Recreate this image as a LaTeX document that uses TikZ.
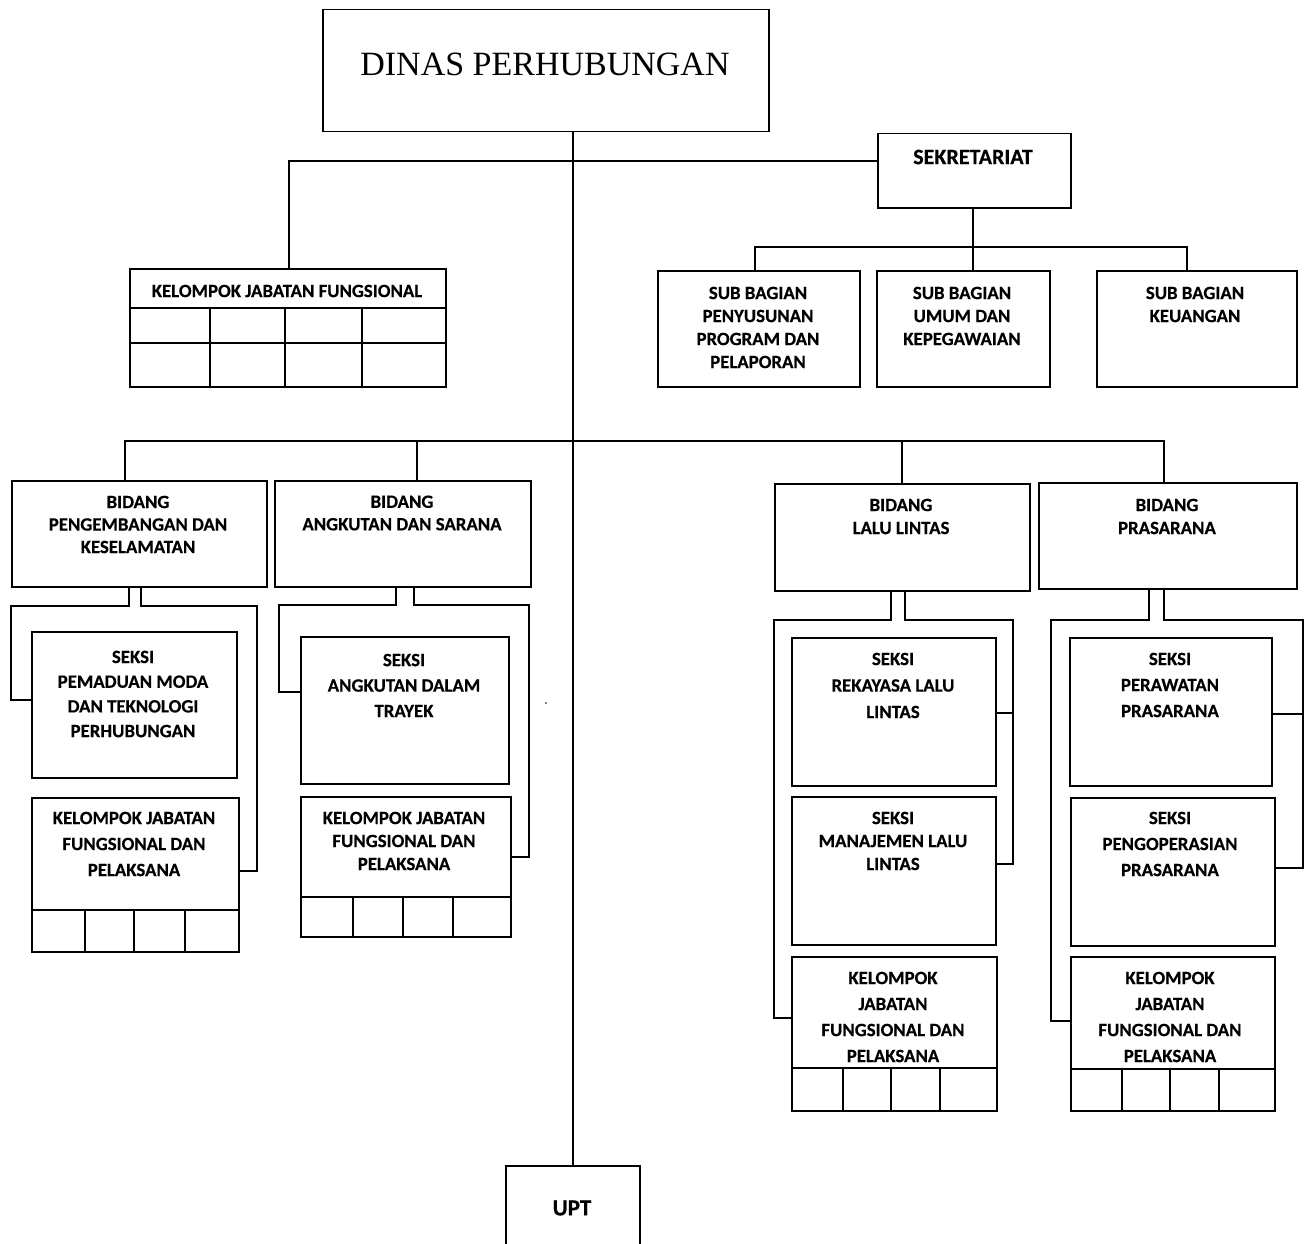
\documentclass[tikz,border=0pt]{standalone}
\usepackage{fontspec}
\newfontfamily\carl{Carlito}[BoldFeatures={FakeBold=0.4}]
\newfontfamily\titlefont{Liberation Serif}
\begin{document}
\begin{tikzpicture}[x=1pt,y=-1pt,line width=1.5pt,
  box/.style={draw,anchor=north west,inner sep=0,line width=1.5pt},
  tx/.style={align=center,inner sep=0,font=\carl\bfseries\fontsize{18.8}{#1}\selectfont},
  tx/.default=23,
  con/.style={line width=1.5pt}]
\useasboundingbox (0,0) rectangle (1307,1244);
\clip (0,0) rectangle (1307,1244);
% ---------- boxes ----------
\node[box,minimum width=446,minimum height=122] (top) at (322,9) {};
\node[font=\titlefont\fontsize{34}{38}\selectfont,inner sep=0] (toptxt) at (545,64) {DINAS PERHUBUNGAN};
\node[box,minimum width=193,minimum height=74] (sek) at (877,133) {};
\node[tx,font=\carl\bfseries\fontsize{22}{26}\selectfont] (sekt) at (973,157) {SEKRETARIAT};
\node[box,minimum width=202,minimum height=116] (sb1) at (657,270) {};
\node[tx] (sb1t) at (758,327.5) {SUB BAGIAN\\PENYUSUNAN\\PROGRAM DAN\\PELAPORAN};
\node[box,minimum width=173,minimum height=116] (sb2) at (876,270) {};
\node[tx] (sb2t) at (962,316) {SUB BAGIAN\\UMUM DAN\\KEPEGAWAIAN};
\node[box,minimum width=200,minimum height=116] (sb3) at (1096,270) {};
\node[tx] (sb3t) at (1195,304.5) {SUB BAGIAN\\KEUANGAN};
% kelompok jabatan fungsional (top)
\node[box,minimum width=316,minimum height=118] (kjf) at (129,268) {};
\node[tx] (kjft) at (287,291) {KELOMPOK JABATAN FUNGSIONAL};
\draw (129,308) -- (445,308) (129,343) -- (445,343);
\foreach \x in {210,285,362} \draw (\x,308) -- (\x,386);
% bidang
\node[box,minimum width=255,minimum height=106] (b1) at (11,480) {};
\node[tx=22.5] (b1t) at (138,524.5) {BIDANG\\PENGEMBANGAN DAN\\KESELAMATAN};
\node[box,minimum width=256,minimum height=106] (b2) at (274,480) {};
\node[tx=22.5] (b2t) at (402,513) {BIDANG\\ANGKUTAN DAN SARANA};
\node[box,minimum width=255,minimum height=107] (b3) at (774,483) {};
\node[tx=23] (b3t) at (901,516.5) {BIDANG\\LALU LINTAS};
\node[box,minimum width=258,minimum height=106] (b4) at (1038,482) {};
\node[tx=23] (b4t) at (1167,516.5) {BIDANG\\PRASARANA};
% seksi under b1, b2
\node[box,minimum width=205,minimum height=146] (pm) at (31,631) {};
\node[tx=24.7] (pmt) at (133,694) {SEKSI\\PEMADUAN MODA\\DAN TEKNOLOGI\\PERHUBUNGAN};
\node[box,minimum width=207,minimum height=154] (kb1) at (31,797) {};
\node[tx=26] (kb1t) at (134,844) {KELOMPOK JABATAN\\FUNGSIONAL DAN\\PELAKSANA};
\draw (31,910) -- (238,910);
\foreach \x in {85,134,185} \draw (\x,910) -- (\x,951);
\node[box,minimum width=208,minimum height=147] (ak) at (300,636) {};
\node[tx=25.5] (akt) at (404,685.5) {SEKSI\\ANGKUTAN DALAM\\TRAYEK};
\node[box,minimum width=210,minimum height=140] (kb2) at (300,796) {};
\node[tx=23] (kb2t) at (404,841) {KELOMPOK JABATAN\\FUNGSIONAL DAN\\PELAKSANA};
\draw (300,897) -- (510,897);
\foreach \x in {353,403,453} \draw (\x,897) -- (\x,936);
% seksi under b3
\node[box,minimum width=204,minimum height=148] (rll) at (791,637) {};
\node[tx=26.5] (rllt) at (893,685.5) {SEKSI\\REKAYASA LALU\\LINTAS};
\node[box,minimum width=204,minimum height=148] (mll) at (791,796) {};
\node[tx=23] (mllt) at (893,841) {SEKSI\\MANAJEMEN LALU\\LINTAS};
\node[box,minimum width=205,minimum height=154] (kb3) at (791,956) {};
\node[tx=26] (kb3t) at (893,1017) {KELOMPOK\\JABATAN\\FUNGSIONAL DAN\\PELAKSANA};
\draw (791,1068) -- (996,1068);
\foreach \x in {843,891,940} \draw (\x,1068) -- (\x,1110);
% seksi under b4
\node[box,minimum width=202,minimum height=148] (pp) at (1069,637) {};
\node[tx=26] (ppt) at (1170,685) {SEKSI\\PERAWATAN\\PRASARANA};
\node[box,minimum width=204,minimum height=148] (pop) at (1070,797) {};
\node[tx=26] (popt) at (1170,844) {SEKSI\\PENGOPERASIAN\\PRASARANA};
\node[box,minimum width=204,minimum height=154] (kb4) at (1070,956) {};
\node[tx=26] (kb4t) at (1170,1017) {KELOMPOK\\JABATAN\\FUNGSIONAL DAN\\PELAKSANA};
\draw (1070,1069) -- (1274,1069);
\foreach \x in {1122,1170,1219} \draw (\x,1069) -- (\x,1110);
% UPT
\node[box,minimum width=134,minimum height=90] (upt) at (505,1165) {};
\node[tx,font=\carl\bfseries\fontsize{23}{26}\selectfont] (uptt) at (572,1208) {UPT};
% stray dot
\fill (546,703) circle (0.8);
% ---------- connectors ----------
\draw[con] (upt.north |- top.south) -- (upt.north);
\coordinate (h1) at (289,161);
\draw[con] (kjf.north -| h1) -- (h1) -- (h1 -| sek.west);
\coordinate (s1) at (755,247);
\coordinate (s3) at (1187,247);
\coordinate (s2) at (973,247);
\draw[con] (sek.south -| s2) -- (sb2.north -| s2);
\draw[con] (sb1.north -| s1) -- (s1) -- (s3) -- (sb3.north -| s3);
\coordinate (bl) at (125,441);
\coordinate (br) at (1164,441);
\coordinate (bm2) at (417,441);
\coordinate (bm3) at (902,441);
\draw[con] (b1.north -| bl) -- (bl) -- (br) -- (b4.north -| br);
\draw[con] (bm2) -- (b2.north -| bm2);
\draw[con] (bm3) -- (b3.north -| bm3);
% b1
\coordinate (a1) at (129,606); \coordinate (a2) at (11,700);
\draw[con] (b1.south -| a1) -- (a1) -| (a2) -- (a2 -| pm.west);
\coordinate (a3) at (141,606); \coordinate (a4) at (257,871);
\draw[con] (b1.south -| a3) -- (a3) -| (a4) -- (a4 -| kb1.east);
% b2
\coordinate (c1) at (396,605); \coordinate (c2) at (279,692);
\draw[con] (b2.south -| c1) -- (c1) -| (c2) -- (c2 -| ak.west);
\coordinate (c3) at (414,605); \coordinate (c4) at (529,857);
\draw[con] (b2.south -| c3) -- (c3) -| (c4) -- (c4 -| kb2.east);
% b3
\coordinate (d1) at (891,620); \coordinate (d2) at (774,1018);
\draw[con] (b3.south -| d1) -- (d1) -| (d2) -- (d2 -| kb3.west);
\coordinate (d3) at (905,620); \coordinate (d4) at (1013,864); \coordinate (d5) at (1013,713);
\draw[con] (b3.south -| d3) -- (d3) -| (d4) -- (d4 -| mll.east);
\draw[con] (d5) -- (d5 -| rll.east);
% b4
\coordinate (e1) at (1149,620); \coordinate (e2) at (1051,1021);
\draw[con] (b4.south -| e1) -- (e1) -| (e2) -- (e2 -| kb4.west);
\coordinate (e3) at (1164,620); \coordinate (e4) at (1303,868); \coordinate (e5) at (1303,714);
\draw[con] (b4.south -| e3) -- (e3) -| (e4) -- (e4 -| pop.east);
\draw[con] (e5) -- (e5 -| pp.east);
\end{tikzpicture}
\end{document}
